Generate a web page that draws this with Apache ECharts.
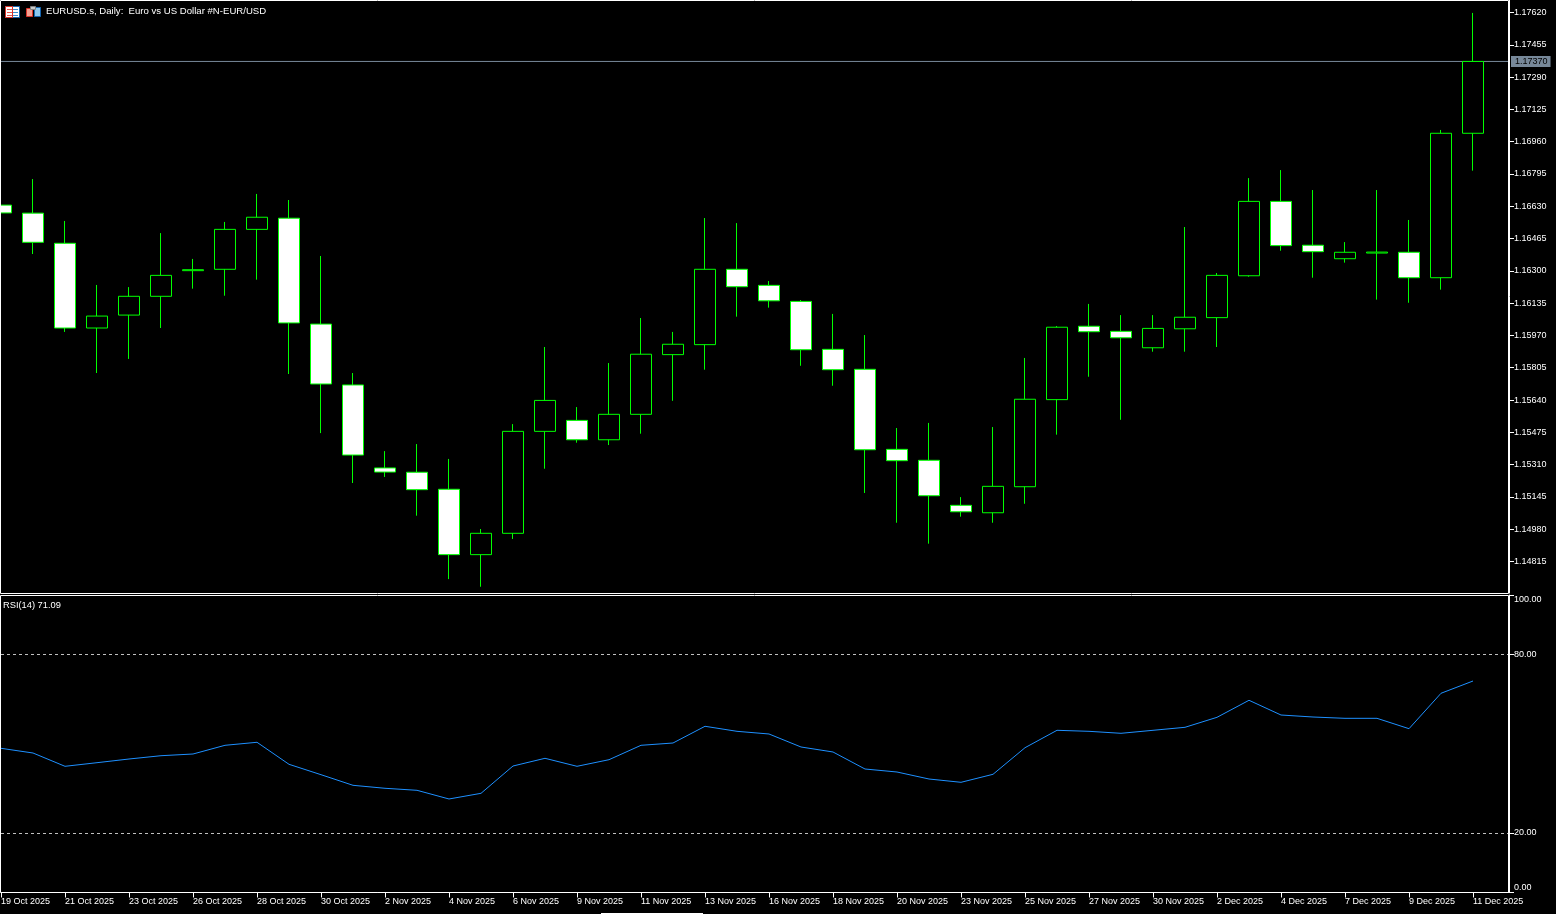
<!DOCTYPE html>
<html>
<head>
<meta charset="utf-8">
<style>html,body{margin:0;padding:0;background:#000;}#c{width:1556px;height:914px;}</style>
<script src="https://cdn.jsdelivr.net/npm/echarts@6/dist/echarts.min.js"></script>
</head>
<body>
<div id="c"></div>
<script>
const dates = ['19 Oct 2025','20 Oct 2025','21 Oct 2025','22 Oct 2025','23 Oct 2025','24 Oct 2025','26 Oct 2025','27 Oct 2025','28 Oct 2025','29 Oct 2025','30 Oct 2025','31 Oct 2025','2 Nov 2025','3 Nov 2025','4 Nov 2025','5 Nov 2025','6 Nov 2025','7 Nov 2025','9 Nov 2025','10 Nov 2025','11 Nov 2025','12 Nov 2025','13 Nov 2025','14 Nov 2025','16 Nov 2025','17 Nov 2025','18 Nov 2025','19 Nov 2025','20 Nov 2025','21 Nov 2025','23 Nov 2025','24 Nov 2025','25 Nov 2025','26 Nov 2025','27 Nov 2025','28 Nov 2025','30 Nov 2025','1 Dec 2025','2 Dec 2025','3 Dec 2025','4 Dec 2025','5 Dec 2025','7 Dec 2025','8 Dec 2025','9 Dec 2025','10 Dec 2025','11 Dec 2025'];
const opens  = [1.16636,1.16595,1.16441,1.16008,1.16074,1.16170,1.16301,1.16308,1.16512,1.16569,1.16028,1.15717,1.15293,1.15271,1.15184,1.14850,1.14959,1.15480,1.15536,1.15437,1.15567,1.15872,1.15923,1.16308,1.16226,1.16144,1.15899,1.15797,1.15388,1.15332,1.15102,1.15064,1.15197,1.15642,1.16017,1.15991,1.15907,1.16004,1.16061,1.16275,1.16655,1.16431,1.16362,1.16391,1.16395,1.16265,1.17003];
const closes = [1.16596,1.16446,1.16008,1.16069,1.16170,1.16277,1.16306,1.16512,1.16574,1.16034,1.15722,1.15359,1.15272,1.15182,1.14850,1.14959,1.15480,1.15638,1.15437,1.15567,1.15874,1.15925,1.16308,1.16219,1.16147,1.15897,1.15795,1.15386,1.15330,1.15151,1.15069,1.15199,1.15644,1.16012,1.15989,1.15958,1.16006,1.16063,1.16277,1.16655,1.16429,1.16398,1.16395,1.16396,1.16265,1.17003,1.17370];
const lows   = [1.16596,1.16386,1.15988,1.15778,1.15850,1.16008,1.16209,1.16173,1.16255,1.15773,1.15471,1.15216,1.15247,1.15049,1.14725,1.14686,1.14930,1.15289,1.15422,1.15410,1.15468,1.15636,1.15795,1.16066,1.16112,1.15815,1.15713,1.15165,1.15013,1.14906,1.15044,1.15013,1.15110,1.15463,1.15759,1.15539,1.15887,1.15887,1.15911,1.16270,1.16403,1.16265,1.16342,1.16153,1.16137,1.16204,1.16812];
const highs  = [1.16636,1.16769,1.16555,1.16228,1.16217,1.16493,1.16361,1.16550,1.16693,1.16662,1.16376,1.15778,1.15379,1.15415,1.15339,1.14981,1.15517,1.15911,1.15604,1.15829,1.16059,1.15988,1.16570,1.16544,1.16248,1.16151,1.16080,1.15972,1.15497,1.15523,1.15144,1.15502,1.15855,1.16018,1.16131,1.16074,1.16074,1.16524,1.16289,1.16774,1.16815,1.16713,1.16447,1.16713,1.16560,1.17020,1.17618];
const rsi = [48.47,46.89,42.42,43.63,44.87,45.98,46.55,49.48,50.49,43.09,39.60,36.03,35.03,34.35,31.43,33.34,42.52,45.11,42.42,44.64,49.48,50.25,55.87,54.18,53.28,48.91,47.23,41.51,40.50,38.15,37.04,39.73,48.67,54.52,54.18,53.51,54.52,55.53,58.89,64.61,59.66,58.99,58.55,58.55,55.06,66.96,71.09];
const priceTicks = [1.14815,1.14980,1.15145,1.15310,1.15475,1.15640,1.15805,1.15970,1.16135,1.16300,1.16465,1.16630,1.16795,1.16960,1.17125,1.17290,1.17455,1.17620];
const rsiTicks = [0,20,80,100];
const rsiLevels = [20,80];
const dateTicks = dates.map((d,i)=>i).filter(i=>i%2===0);
const currentPrice = 1.17370;
const xMax = 47.125;
const titleText = 'EURUSD.s, Daily:  Euro vs US Dollar #N-EUR/USD';
const rsiText = 'RSI(14) 71.09';

const FONT = '"Liberation Sans", Arial, sans-serif';
const candles = dates.map((d,i)=>[i,opens[i],closes[i],lows[i],highs[i]]);
const rsiData = rsi.map((v,i)=>[i,v]);

function icon(x, y, left, right){
  const items = [];
  items.push({type:'rect',shape:{x:x+0.5,y:y+0.5,width:14,height:11},style:{fill:'#fff',stroke:right}});
  items.push({type:'rect',shape:{x:x+0.5,y:y+0.5,width:7,height:11},style:{fill:'#fff',stroke:left}});
  return items;
}
const icons = [
  ...icon(5,6,'#d8332a','#1565b0'),
  {type:'rect',shape:{x:7,y:9,width:5,height:1},style:{fill:'#e8584e'}},
  {type:'rect',shape:{x:7,y:12,width:5,height:1},style:{fill:'#e8584e'}},
  {type:'rect',shape:{x:7,y:15,width:5,height:1},style:{fill:'#e8584e'}},
  {type:'rect',shape:{x:13,y:9,width:5,height:1},style:{fill:'#3b8ed0'}},
  {type:'rect',shape:{x:13,y:12,width:5,height:1},style:{fill:'#3b8ed0'}},
  {type:'rect',shape:{x:13,y:15,width:5,height:1},style:{fill:'#3b8ed0'}},
  {type:'rect',shape:{x:26.5,y:8.5,width:6,height:8},style:{fill:'#f4a090',stroke:'#d8332a'}},
  {type:'rect',shape:{x:34.5,y:7.5,width:6,height:9},style:{fill:'#8cc8ee',stroke:'#1565b0'}},
  {type:'rect',shape:{x:30.5,y:6.5,width:5,height:3},style:{fill:'#c8c8c8',stroke:'#808080'}}
];

const chart = echarts.init(document.getElementById('c'), null, {renderer:'canvas'});
chart.setOption({
  backgroundColor:'#000',
  animation:false,
  tooltip:{show:false},
  grid:[
    {left:1,top:0,width:1508,height:593,containLabel:false,outerBoundsMode:'none'},
    {left:1,top:595,width:1508,height:297.5,containLabel:false,outerBoundsMode:'none'}
  ],
  xAxis:[
    {type:'value',gridIndex:0,min:0,max:xMax,show:false,splitLine:{show:false}},
    {type:'value',gridIndex:1,min:0,max:xMax,splitLine:{show:false},
      axisLine:{show:true,onZero:false,lineStyle:{color:'#fff',width:1}},
      axisTick:{show:true,length:5,lineStyle:{color:'#fff',width:1},customValues:dateTicks},
      axisLabel:{show:true,customValues:dateTicks,align:'left',margin:5,color:'#fff',fontFamily:FONT,fontSize:9,
        hideOverlap:false,formatter:v=>dates[Math.round(v)]}}
  ],
  yAxis:[
    {type:'value',gridIndex:0,position:'right',min:1.14654,max:1.17684,splitLine:{show:false},
      axisLine:{show:true,onZero:false,lineStyle:{color:'#fff',width:1}},
      axisTick:{show:true,length:5,lineStyle:{color:'#fff',width:1},customValues:priceTicks},
      axisLabel:{show:true,customValues:priceTicks,margin:5,color:'#fff',fontFamily:FONT,fontSize:9,
        formatter:v=>v.toFixed(5)}},
    {type:'value',gridIndex:1,position:'right',min:0,max:100,splitLine:{show:false},
      axisLine:{show:true,onZero:false,lineStyle:{color:'#fff',width:1}},
      axisTick:{show:true,length:5,lineStyle:{color:'#fff',width:1},customValues:rsiTicks},
      axisLabel:{show:true,customValues:rsiTicks,margin:5,color:'#fff',fontFamily:FONT,fontSize:9,
        verticalAlignMinLabel:'bottom',verticalAlignMaxLabel:'top',
        formatter:v=>v.toFixed(2)}}
  ],
  series:[
    {type:'line',name:'Last price',xAxisIndex:0,yAxisIndex:0,z:1,data:[[0,currentPrice],[xMax,currentPrice]],
      symbol:'none',showSymbol:false,lineStyle:{color:'#778899',width:1},
      endLabel:{show:true,distance:2,formatter:currentPrice.toFixed(5),color:'#000',
        backgroundColor:'#778899',padding:[1,3,1,4],fontFamily:FONT,fontSize:9}},
    {type:'candlestick',name:'EURUSD.s',xAxisIndex:0,yAxisIndex:0,data:candles,barWidth:22,z:3,
      itemStyle:{color:'#000',color0:'#fff',borderColor:'#00ff00',borderColor0:'#00ff00',borderColorDoji:'#00ff00',borderWidth:1}},
    {type:'line',name:'RSI(14)',xAxisIndex:1,yAxisIndex:1,data:rsiData,showSymbol:false,symbol:'none',smooth:false,
      lineStyle:{color:'#1e90ff',width:1},
      markLine:{silent:true,symbol:'none',animation:false,
        lineStyle:{color:'#c0c0c0',width:1,type:[3,3]},label:{show:false},
        data:rsiLevels.map(v=>({yAxis:v}))}}
  ],
  graphic:[
    {type:'rect',silent:true,z:10,shape:{x:0.5,y:0.5,width:1508,height:593},style:{fill:null,stroke:'#fff',lineWidth:1}},
    {type:'rect',silent:true,z:10,shape:{x:0.5,y:595.5,width:1508,height:297},style:{fill:null,stroke:'#fff',lineWidth:1}},
    {type:'rect',silent:true,z:10,shape:{x:601,y:913,width:102,height:1},style:{fill:'#fff'}},
    ...icons.map(o=>Object.assign({silent:true,z:11},o)),
    {type:'text',silent:true,z:11,x:46,y:6.5,style:{text:titleText,fill:'#fff',font:'9.6px '+FONT}},
    {type:'text',silent:true,z:11,x:3,y:600.5,style:{text:rsiText,fill:'#fff',font:'9.3px '+FONT}}
  ]
});
</script>
</body>
</html>
